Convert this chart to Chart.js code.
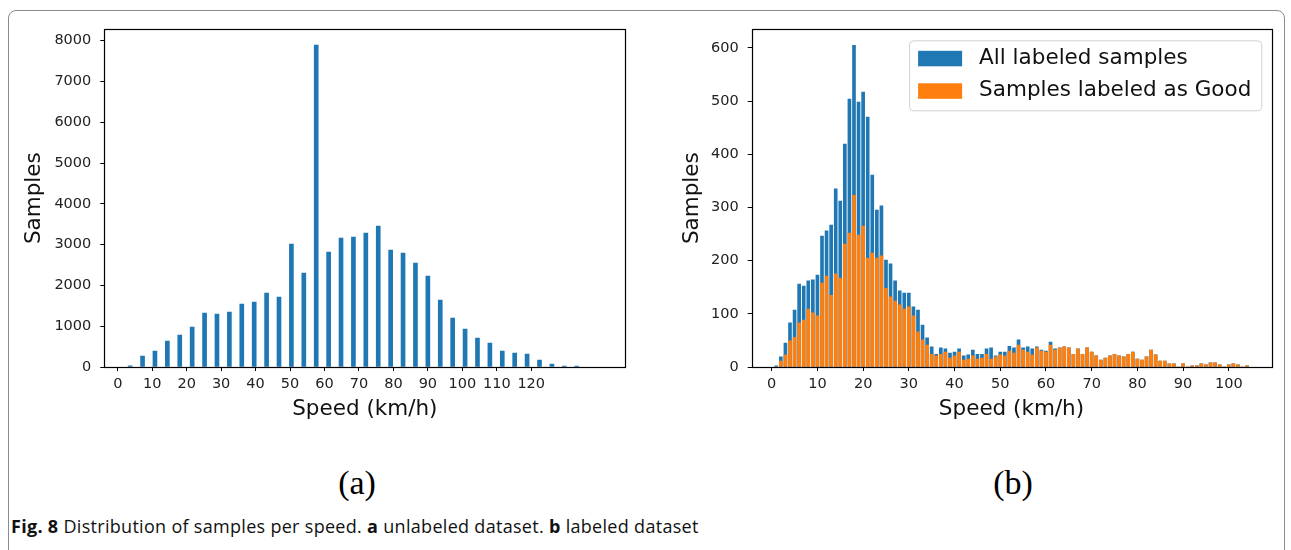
<!DOCTYPE html>
<html>
<head>
<meta charset="utf-8">
<script src="https://cdn.jsdelivr.net/npm/chart.js@4.4.0/dist/chart.umd.min.js"></script>
<style>
  body { margin: 0; background: #fff; }
  #page { position: relative; width: 1291px; height: 550px; overflow: hidden; background: #fff; }
  #frame { position: absolute; left: 8px; top: 10px; width: 1275px; height: 600px; border: 1px solid #8a8a8a; border-radius: 8px; }
  .chartBox { position: absolute; top: 0; }
  .sub { position: absolute; top: 483px; transform: translate(-50%, -50%); font-family: 'Liberation Serif', serif; font-size: 34px; color: #000; }
  #caption { position: absolute; left: 11px; top: 514px; font-family: 'Open Sans', sans-serif; font-size: 18px; letter-spacing: 0.3px; color: #111; white-space: nowrap; }
</style>
</head>
<body>
<div id="page">
  <div id="frame"></div>
  <div class="chartBox" style="left:0"><canvas id="left" width="640" height="430"></canvas></div>
  <div class="chartBox" style="left:640px"><canvas id="right" width="651" height="430"></canvas></div>
  <div class="sub" style="left:357px">(a)</div>
  <div class="sub" style="left:1013px">(b)</div>
  <div id="caption"><b>Fig. 8</b> Distribution of samples per speed. <b>a</b> unlabeled dataset. <b>b</b> labeled dataset</div>
</div>
<script>
// (a) unlabeled dataset, bins every 3.6 km/h
const leftSpeeds = [3.6, 7.2, 10.8, 14.4, 18, 21.6, 25.2, 28.8, 32.4, 36, 39.6, 43.2, 46.8, 50.4, 54, 57.6, 61.2, 64.8, 68.4, 72,
  75.6, 79.2, 82.8, 86.4, 90, 93.6, 97.2, 100.8, 104.4, 108, 111.6, 115.2, 118.8, 122.4, 126, 129.6, 133.2];
const leftSamples = [30, 270, 392, 637, 784, 980, 1324, 1299, 1348, 1544, 1593, 1814, 1716, 3015, 2304, 7892, 2819, 3162, 3186, 3284,
  3456, 2868, 2794, 2549, 2230, 1642, 1201, 931, 711, 588, 392, 343, 319, 172, 74, 25, 25];
const leftXTicks = [0, 10, 20, 30, 40, 50, 60, 70, 80, 90, 100, 110, 120];
const leftYTicks = [0, 1000, 2000, 3000, 4000, 5000, 6000, 7000, 8000];

// (b) labeled dataset, bins every 1 km/h
const rightSpeeds = [1, 2, 3, 4, 5, 6, 7, 8, 9, 10, 11, 12, 13, 14, 15, 16, 17, 18, 19, 20,
  21, 22, 23, 24, 25, 26, 27, 28, 29, 30, 31, 32, 33, 34, 35, 36, 37, 38, 39, 40,
  41, 42, 43, 44, 45, 46, 47, 48, 49, 50, 51, 52, 53, 54, 55, 56, 57, 58, 59, 60,
  61, 62, 63, 64, 65, 66, 67, 68, 69, 70, 71, 72, 73, 74, 75, 76, 77, 78, 79, 80,
  81, 82, 83, 84, 85, 86, 87, 88, 89, 90, 91, 92, 93, 94, 95, 96, 97, 98, 99, 100,
  101, 102, 103, 104];
const allLabeled = [2, 19, 45, 83, 107, 156, 152, 162, 164, 173, 246, 256, 267, 335, 312, 419, 504, 605, 498, 517,
  470, 361, 295, 303, 201, 194, 162, 143, 139, 139, 113, 107, 79, 55, 38, 24, 36, 34, 26, 28,
  34, 21, 23, 32, 24, 24, 34, 36, 21, 28, 28, 39, 36, 51, 36, 38, 34, 38, 32, 30,
  47, 34, 36, 38, 36, 24, 34, 24, 36, 28, 21, 13, 17, 21, 24, 21, 19, 24, 28, 15,
  13, 19, 32, 23, 11, 11, 6, 6, 0, 6, 0, 2, 2, 6, 4, 8, 8, 4, 0, 4,
  6, 4, 0, 2];
const labeledGood = [0, 11, 23, 49, 56, 83, 88, 109, 102, 96, 158, 171, 135, 175, 167, 231, 252, 323, 248, 265,
  205, 214, 205, 209, 148, 132, 124, 117, 109, 113, 96, 66, 51, 41, 24, 21, 24, 28, 17, 21,
  28, 13, 15, 21, 15, 17, 24, 15, 19, 23, 21, 30, 26, 41, 32, 28, 23, 36, 30, 28,
  41, 32, 36, 38, 36, 24, 34, 24, 36, 28, 21, 13, 17, 21, 24, 21, 19, 24, 28, 15,
  13, 19, 32, 23, 11, 11, 6, 6, 0, 6, 0, 2, 2, 6, 4, 8, 8, 4, 0, 4,
  6, 4, 0, 2];
const rightXTicks = [0, 10, 20, 30, 40, 50, 60, 70, 80, 90, 100];
const rightYTicks = [0, 100, 200, 300, 400, 500, 600];

const blue = '#1f77b4';
const orange = '#ff7f0e';
const tickFont = { family: 'DejaVu Sans', size: 14.5 };
const titleFont = { family: 'DejaVu Sans', size: 21.5 };

const framePlugin = {
  id: 'frame',
  afterDatasetsDraw(chart) {
    const { ctx, chartArea: a } = chart;
    ctx.save();
    ctx.strokeStyle = '#000';
    ctx.lineWidth = 1.2;
    ctx.strokeRect(Math.round(a.left) + 0.5, Math.round(a.top) + 0.5,
      Math.round(a.right - a.left), Math.round(a.bottom - a.top));
    ctx.restore();
  }
};

const boxLegend = {
  id: 'boxLegend',
  afterDraw(chart) {
    const { ctx, chartArea: a } = chart;
    const items = chart.data.datasets;
    ctx.save();
    ctx.font = '21.5px "DejaVu Sans"';
    const textW = Math.max(...items.map(d => ctx.measureText(d.label).width));
    const w = 70 + textW + 10, h = 70;
    const x = a.right - 10 - w, y = a.top + 11;
    ctx.beginPath();
    ctx.roundRect(x + 0.5, y + 0.5, w, h, 4);
    ctx.fillStyle = 'rgba(255,255,255,0.8)';
    ctx.fill();
    ctx.strokeStyle = '#d0d0d0';
    ctx.lineWidth = 1;
    ctx.stroke();
    items.forEach((d, i) => {
      const cy = y + 18 + i * 32.5;
      ctx.fillStyle = d.backgroundColor;
      ctx.fillRect(x + 9, cy - 7.5, 44, 15.5);
      ctx.fillStyle = '#111';
      ctx.textBaseline = 'middle';
      ctx.fillText(d.label, x + 70, cy);
    });
    ctx.restore();
  }
};

function xScale(min, max, ticks, axisH) {
  return {
    type: 'linear', min, max, offset: false,
    afterBuildTicks: s => { s.ticks = ticks.map(v => ({ value: v })); },
    afterFit: s => { s.height = axisH; },
    grid: { display: true, drawOnChartArea: false, drawTicks: true, tickLength: 4, color: '#000', offset: false },
    border: { display: false },
    ticks: { font: tickFont, color: '#222', padding: 5, maxRotation: 0, autoSkip: false, callback: v => String(v) },
    title: { display: true, text: 'Speed (km/h)', font: titleFont, color: '#111', padding: { top: 0, bottom: 8 } }
  };
}

function yScale(max, ticks, axisW, titlePad) {
  return {
    min: 0, max,
    afterBuildTicks: s => { s.ticks = ticks.map(v => ({ value: v })); },
    afterFit: s => { s.width = axisW; },
    grid: { display: true, drawOnChartArea: false, drawTicks: true, tickLength: 4, color: '#000' },
    border: { display: false },
    ticks: { font: tickFont, color: '#222', padding: 9, callback: v => String(v) },
    title: { display: true, text: 'Samples', font: titleFont, color: '#111', padding: { top: titlePad, bottom: 0 } }
  };
}

new Chart(document.getElementById('left'), {
  type: 'bar',
  data: {
    datasets: [{
      label: 'Samples',
      data: leftSpeeds.map((x, i) => ({ x, y: leftSamples[i] })),
      backgroundColor: blue,
      barThickness: 4
    }]
  },
  options: {
    responsive: false,
    animation: false,
    devicePixelRatio: 1,
    layout: { padding: { top: 29.3, right: 14.7, left: 0, bottom: 0 } },
    scales: {
      x: xScale(-3.9, 147.3, leftXTicks, 63),
      y: yScale(8280, leftYTicks, 104.3, 22)
    },
    plugins: { legend: { display: false }, tooltip: { enabled: false } }
  },
  plugins: [framePlugin]
});

new Chart(document.getElementById('right'), {
  type: 'bar',
  data: {
    datasets: [{
      label: 'All labeled samples',
      data: rightSpeeds.map((x, i) => ({ x, y: allLabeled[i] })),
      backgroundColor: blue,
      grouped: false,
      order: 1,
      barThickness: 3
    }, {
      label: 'Samples labeled as Good',
      data: rightSpeeds.map((x, i) => ({ x, y: labeledGood[i] })),
      backgroundColor: orange,
      grouped: false,
      order: 0,
      barThickness: 3
    }]
  },
  options: {
    responsive: false,
    animation: false,
    devicePixelRatio: 1,
    layout: { padding: { top: 29.3, right: 19.7, left: 0, bottom: 0 } },
    scales: {
      x: xScale(-4.38, 109.3, rightXTicks, 63),
      y: yScale(635, rightYTicks, 111.7, 40)
    },
    plugins: { legend: { display: false }, tooltip: { enabled: false } }
  },
  plugins: [framePlugin, boxLegend]
});
</script>
</body>
</html>
